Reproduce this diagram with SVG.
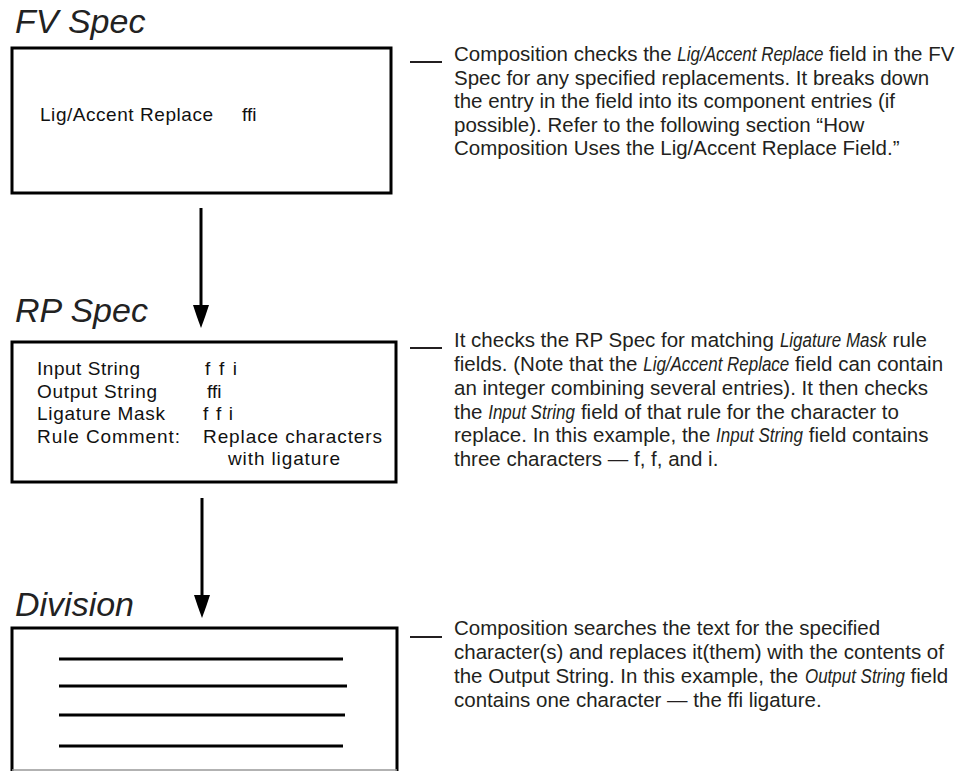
<svg xmlns="http://www.w3.org/2000/svg" width="978" height="771" viewBox="0 0 978 771">
<style>
.box{fill:#fff;stroke:#000;stroke-width:3}
.title{font-family:"Liberation Sans",Arial,sans-serif;font-style:italic;font-size:34px;fill:#222}
.inner{font-family:"Liberation Sans",Arial,sans-serif;font-size:19px;fill:#111}
.para{font-family:"Liberation Sans",Arial,sans-serif;font-size:20.5px;fill:#231f20}
.it{font-style:italic}
.tick{stroke:#231f20;stroke-width:2}
.conn{stroke:#000;stroke-width:3;fill:none}
.rule{stroke:#000;stroke-width:3}
</style>
<defs>
<polygon id="head" points="-8,0 8,0 4,12 0,23 -4,12" fill="#000"/>
</defs>
<rect width="978" height="771" fill="#fff"/>

<g id="fv-spec">
<text class="title" x="15" y="33">FV Spec</text>
<rect class="box" x="12" y="48" width="379" height="145"/>
<text class="inner" x="40" y="121" textLength="173" lengthAdjust="spacing">Lig/Accent Replace</text>
<text class="inner" x="242" y="121">ffi</text>
</g>

<g id="rp-spec">
<text class="title" x="15" y="322">RP Spec</text>
<rect class="box" x="12" y="342" width="384" height="140"/>
<text class="inner" x="37" y="375" textLength="103" lengthAdjust="spacing">Input String</text>
<text class="inner" x="37" y="398" textLength="120" lengthAdjust="spacing">Output String</text>
<text class="inner" x="37" y="420" textLength="128" lengthAdjust="spacing">Ligature Mask</text>
<text class="inner" x="37" y="443" textLength="143" lengthAdjust="spacing">Rule Comment:</text>
<text class="inner" x="205" y="375" textLength="32" lengthAdjust="spacing">f f i</text>
<text class="inner" x="207" y="398">ffi</text>
<text class="inner" x="203" y="420" textLength="30" lengthAdjust="spacing">f f i</text>
<text class="inner" x="203" y="443" textLength="179" lengthAdjust="spacing">Replace characters</text>
<text class="inner" x="228" y="465" textLength="112" lengthAdjust="spacing">with ligature</text>
</g>

<g id="division">
<text class="title" x="15" y="616">Division</text>
<path class="box" d="M12,771 V628 H397 V771"/>
<line x1="12" y1="770" x2="397" y2="770" stroke="#999" stroke-width="1.5"/>
<line class="rule" x1="59" y1="659" x2="343" y2="659"/>
<line class="rule" x1="59" y1="686" x2="347" y2="686"/>
<line class="rule" x1="59" y1="715" x2="345" y2="715"/>
<line class="rule" x1="59" y1="746" x2="343" y2="746"/>
</g>

<g id="connectors">
<line class="conn" x1="201" y1="208" x2="201" y2="306"/>
<use href="#head" x="201" y="305"/>
<line class="conn" x1="202" y1="498" x2="202" y2="596"/>
<use href="#head" x="202" y="595"/>
</g>

<g id="note-1">
<line class="tick" x1="410" y1="62" x2="442" y2="62"/>
<text class="para" x="454" y="61">Composition checks the</text>
<text class="para it" transform="translate(677.3,61) scale(0.828,1)">Lig/Accent Replace</text>
<text class="para" x="829" y="61">field in the FV</text>
<text class="para" x="454" y="84.5">Spec for any specified replacements. It breaks down</text>
<text class="para" x="454" y="108">the entry in the field into its component entries (if</text>
<text class="para" x="454" y="131.5">possible). Refer to the following section “How</text>
<text class="para" x="454" y="155">Composition Uses the Lig/Accent Replace Field.”</text>
</g>

<g id="note-2">
<line class="tick" x1="410" y1="348" x2="442" y2="348"/>
<text class="para" x="454" y="347">It checks the RP Spec for matching</text>
<text class="para it" transform="translate(779.9,347) scale(0.828,1)">Ligature Mask</text>
<text class="para" x="892.6" y="347">rule</text>
<text class="para" x="454" y="371">fields. (Note that the</text>
<text class="para it" transform="translate(643.2,371) scale(0.828,1)">Lig/Accent Replace</text>
<text class="para" x="794.9" y="371">field can contain</text>
<text class="para" x="454" y="395">an integer combining several entries). It then checks</text>
<text class="para" x="454" y="418.5">the</text>
<text class="para it" transform="translate(488.2,418.5) scale(0.828,1)">Input String</text>
<text class="para" x="580.9" y="418.5">field of that rule for the character to</text>
<text class="para" x="454" y="442">replace. In this example, the</text>
<text class="para it" transform="translate(716.1,442) scale(0.828,1)">Input String</text>
<text class="para" x="808.8" y="442">field contains</text>
<text class="para" x="454" y="466">three characters — f, f, and i.</text>
</g>

<g id="note-3">
<line class="tick" x1="410" y1="637" x2="442" y2="637"/>
<text class="para" x="454" y="635">Composition searches the text for the specified</text>
<text class="para" x="454" y="659">character(s) and replaces it(them) with the contents of</text>
<text class="para" x="454" y="683">the Output String. In this example, the</text>
<text class="para it" transform="translate(805,683) scale(0.828,1)">Output String</text>
<text class="para" x="910.5" y="683">field</text>
<text class="para" x="454" y="707">contains one character — the ffi ligature.</text>
</g>
</svg>
